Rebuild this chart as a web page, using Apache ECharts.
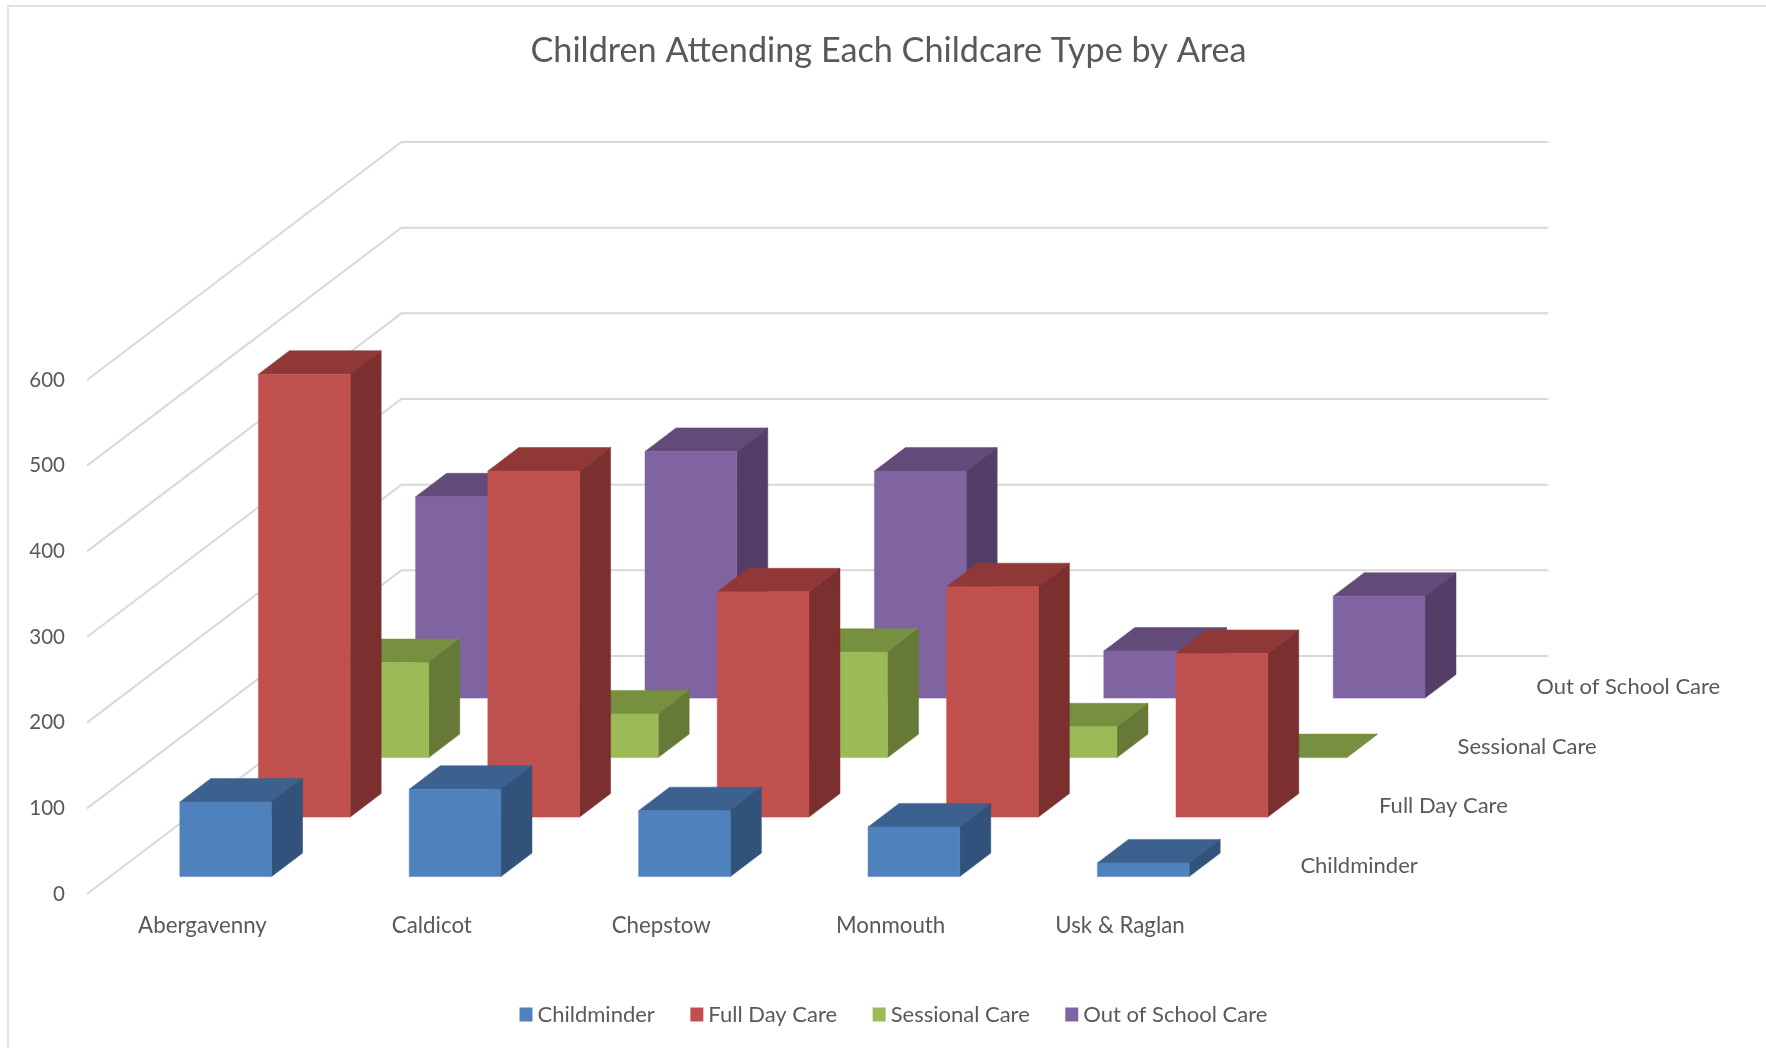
<!DOCTYPE html>
<html>
<head>
<meta charset="utf-8">
<title>Children Attending Each Childcare Type by Area</title>
<style>html,body{margin:0;padding:0;background:#fff}#chart{width:1766px;height:1048px}</style>
<script src="https://cdn.jsdelivr.net/npm/echarts@6/dist/echarts.min.js"></script>
</head>
<body>
<div id="chart"></div>
<script>
const chartTitle = 'Children Attending Each Childcare Type by Area';
const areas = ['Abergavenny', 'Caldicot', 'Chepstow', 'Monmouth', 'Usk & Raglan'];
const valueTicks = [0, 100, 200, 300, 400, 500, 600];
const childminder = [87, 102, 77, 58, 16];
const fullDayCare = [517, 404, 263, 269, 191];
const sessionalCare = [111, 51, 123, 36, 0];
const outOfSchoolCare = [235, 288, 265, 55, 119];
const seriesNames = ['Childminder', 'Full Day Care', 'Sessional Care', 'Out of School Care'];

const rows = [childminder, fullDayCare, sessionalCare, outOfSchoolCare];
const shades = [
  { front: '#4F81BD', top: '#3C618E', side: '#31527A' },
  { front: '#C0504D', top: '#903837', side: '#7C2F2F' },
  { front: '#9BBB59', top: '#76903F', side: '#667936' },
  { front: '#8064A2', top: '#634B79', side: '#533E67' }
];

const FONT = 'Lato, "Noto Sans", sans-serif';
const TEXT = '#595959';
const GRIDLINE = '#D9D9D9';
const ROW_DX = 78.6, ROW_DY = 59.5;     // projection of one series row into depth
const BAR_DX = 31, BAR_DY = 23.5;       // projection of a bar's own depth
const GAP_DX = 24, GAP_DY = 17.4;       // front gap of a bar inside its row
const BAR_RATIO = 0.4;

function poly(points, fill) {
  return { type: 'polygon', shape: { points }, style: { fill, stroke: fill, lineWidth: 0.5 } };
}

function renderBar(rowIndex) {
  return function (params, api) {
    const base = api.coord([api.value(0), 0]);
    const tip = api.coord([api.value(0), api.value(1)]);
    const w = api.size([1, 0])[0] * BAR_RATIO;
    const ox = GAP_DX + rowIndex * ROW_DX;
    const oy = GAP_DY + rowIndex * ROW_DY;
    const l = base[0] + ox - w / 2, r = l + w;
    const b = base[1] - oy, t = tip[1] - oy;
    const c = shades[rowIndex];
    return {
      type: 'group',
      children: [
        poly([[l, t], [r, t], [r + BAR_DX, t - BAR_DY], [l + BAR_DX, t - BAR_DY]], c.top),
        poly([[r, b], [r, t], [r + BAR_DX, t - BAR_DY], [r + BAR_DX, b - BAR_DY]], c.side),
        poly([[l, b], [r, b], [r, t], [l, t]], c.front)
      ]
    };
  };
}

function renderWall(params, api) {
  const sys = params.coordSys;
  const y = api.coord([0, api.value(0)])[1];
  const dx = rows.length * ROW_DX, dy = rows.length * ROW_DY;
  return {
    type: 'polyline',
    shape: { points: [[sys.x, y], [sys.x + dx, y - dy], [sys.x + sys.width + dx, y - dy]] },
    style: { fill: 'none', stroke: GRIDLINE, lineWidth: 2 }
  };
}

function renderDepthLabel(params, api) {
  const sys = params.coordSys;
  const i = api.value(0);
  return {
    type: 'text',
    style: {
      text: seriesNames[i],
      x: sys.x + sys.width + 66.4 + i * ROW_DX,
      y: sys.y + sys.height - 28.5 - i * ROW_DY,
      fill: TEXT,
      font: '22px ' + FONT,
      align: 'left',
      verticalAlign: 'middle'
    }
  };
}

const barSeries = rows.map((values, i) => ({
  name: seriesNames[i],
  type: 'custom',
  coordinateSystem: 'cartesian2d',
  z: 10 + (rows.length - i),
  itemStyle: { color: shades[i].front },
  encode: { x: 0, y: 1 },
  renderItem: renderBar(i),
  silent: true,
  data: values.map((v, c) => [c, v])
}));

const chart = echarts.init(document.getElementById('chart'));
chart.setOption({
  animation: false,
  backgroundColor: '#fff',
  title: {
    text: chartTitle,
    left: 883.5, top: 29, textAlign: 'center',
    textStyle: { color: TEXT, fontFamily: FONT, fontSize: 34.2, fontWeight: 'normal' }
  },
  graphic: [{
    type: 'rect', left: 5.5, top: 3.5, silent: true,
    shape: { width: 1900, height: 1200 },
    style: { fill: 'none', stroke: GRIDLINE, lineWidth: 1.5 }
  }],
  legend: {
    data: seriesNames,
    left: 514.5, top: 998.5,
    icon: 'rect', itemWidth: 13, itemHeight: 14, itemGap: 35.5,
    selectedMode: false,
    textStyle: { color: TEXT, fontFamily: FONT, fontSize: 22, padding: [0, 0, 0, 0] }
  },
  grid: { left: 87, top: 380, width: 1147, height: 514 },
  xAxis: {
    type: 'category', data: areas,
    axisLine: { show: false }, axisTick: { show: false },
    axisLabel: { color: TEXT, fontFamily: FONT, fontSize: 22.3, margin: 20.5, interval: 0, padding: [0, 0, 0, 1.5] }
  },
  yAxis: {
    type: 'value', min: 0, max: 600, interval: 100,
    axisLine: { show: false }, axisTick: { show: false }, splitLine: { show: false },
    axisLabel: { color: TEXT, fontFamily: FONT, fontSize: 20.5, margin: 22 }
  },
  series: [
    {
      name: 'walls', type: 'custom', coordinateSystem: 'cartesian2d', z: 1, silent: true,
      encode: { y: 0 }, renderItem: renderWall,
      data: valueTicks.map(v => [v])
    },
    {
      name: 'depthAxis', type: 'custom', coordinateSystem: 'cartesian2d', z: 2, silent: true,
      encode: { x: 0 }, renderItem: renderDepthLabel,
      data: seriesNames.map((n, i) => [i])
    }
  ].concat(barSeries)
});
</script>
</body>
</html>
